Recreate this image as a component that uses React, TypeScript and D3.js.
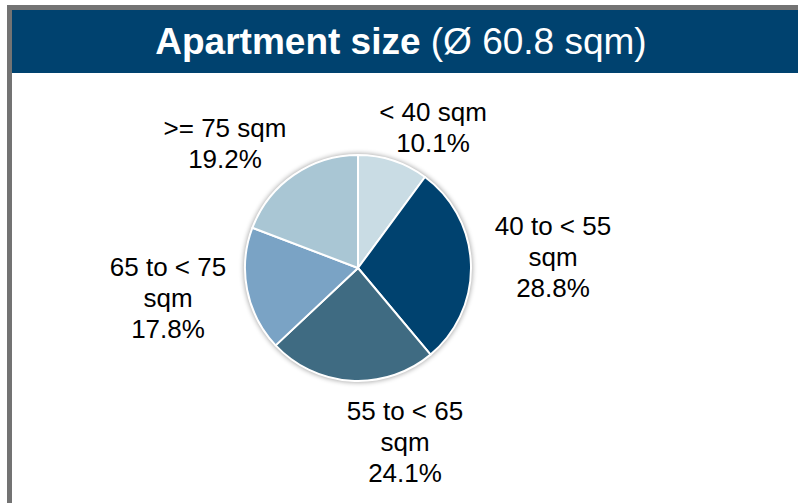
import React from "react";
import * as d3 from "d3";

const categories = ["< 40 sqm", "40 to < 55 sqm", "55 to < 65 sqm", "65 to < 75 sqm", ">= 75 sqm"];
const shares = [10.1, 28.8, 24.1, 17.8, 19.2];
const labelLines = [
  ["< 40 sqm"],
  ["40 to < 55", "sqm"],
  ["55 to < 65", "sqm"],
  ["65 to < 75", "sqm"],
  [">= 75 sqm"],
];
const sliceColors = ["#c9dce4", "#00426f", "#3f6b82", "#7aa3c5", "#a9c6d4"];
const labelPos: [number, number][] = [
  [433, 121],
  [553, 235],
  [405, 420],
  [168, 276],
  [225, 137],
];

const W = 798;
const H = 503;
const cx = 358;
const cy = 268;
const R = 113;

export default function App() {
  const pie = d3.pie<number>().sort(null).value((d) => d)(shares);
  const arc = d3.arc<d3.PieArcDatum<number>>().innerRadius(0).outerRadius(R);
  const font = "Arial, 'Liberation Sans', sans-serif";
  return (
    <svg width={W} height={H} style={{ position: "absolute", left: 0, top: 0 }}>
      <defs>
        <filter id="sh" x="-20%" y="-20%" width="140%" height="140%">
          <feGaussianBlur stdDeviation="2.5" />
        </filter>
      </defs>
      <rect x={0} y={0} width={W} height={H} fill="#fff" />
      <rect x={7} y={5} width={W - 7} height={5} fill="#737373" />
      <rect x={7} y={5} width={5} height={H - 5} fill="#737373" />
      <rect x={12} y={10} width={W - 12} height={63} fill="#00426f" />
      <text x={401} y={54} fill="#fff" fontFamily={font} fontSize={37} textAnchor="middle">
        <tspan fontWeight="bold">Apartment size</tspan>
        <tspan> (Ø 60.8 sqm)</tspan>
      </text>
      <circle cx={cx} cy={cy} r={R + 1.5} fill="#000" opacity={0.35} filter="url(#sh)" />
      <g transform={`translate(${cx},${cy})`}>
        {pie.map((p, i) => (
          <path key={categories[i]} d={arc(p) || ""} fill={sliceColors[i]} stroke="#fff" strokeWidth={2} strokeLinejoin="round" />
        ))}
      </g>
      {labelLines.map((lines, i) => {
        const [x, y] = labelPos[i];
        const all = [...lines, `${shares[i].toFixed(1)}%`];
        return (
          <text key={categories[i]} x={x} y={y} fontFamily={font} fontSize={26} textAnchor="middle" fill="#000">
            {all.map((l, j) => (
              <tspan key={j} x={x} dy={j === 0 ? 0 : 31}>
                {l}
              </tspan>
            ))}
          </text>
        );
      })}
    </svg>
  );
}
